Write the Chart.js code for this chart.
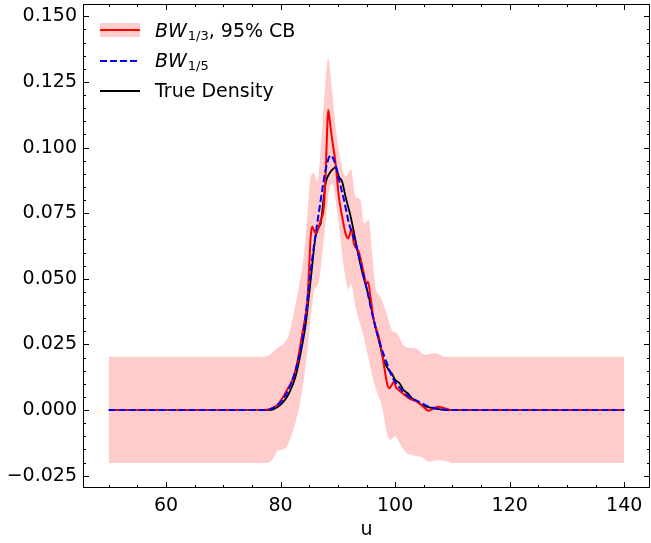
<!DOCTYPE html>
<html><head><meta charset="utf-8">
<script src="https://cdn.jsdelivr.net/npm/chart.js@4.4.1/dist/chart.umd.min.js"></script>
<style>html,body{margin:0;padding:0;background:#fff}canvas{display:block}</style>
</head><body>
<canvas id="c" width="651" height="543"></canvas>
<script>
// ---- tick labels ----
const xTicks = [60, 80, 100, 120, 140];
const yTicks = [-0.025, 0, 0.025, 0.05, 0.075, 0.1, 0.125, 0.15];

// ---- 95% confidence band (upper) ----
const upperU = [50, 77.0, 78.0, 79.7, 80.6, 81.5, 82.05, 83.2, 84.1, 84.6, 85.25, 85.83, 86.4, 87.0, 87.6, 88.31, 89.0, 89.6, 90.47, 91.34, 92.3, 93.08, 93.95, 94.53, 95.4, 95.97, 96.56, 97.43, 98.3, 99.45, 100.32, 101.78, 103.52, 105.26, 107.0, 108.74, 140];
const upperV = [0.0203, 0.0203, 0.021, 0.0241, 0.0254, 0.029, 0.0343, 0.047, 0.0597, 0.0724, 0.0889, 0.0902, 0.087, 0.099, 0.118, 0.134, 0.122, 0.108, 0.0953, 0.0889, 0.0917, 0.0813, 0.080, 0.0711, 0.0724, 0.0597, 0.047, 0.0432, 0.0381, 0.0305, 0.0292, 0.0241, 0.0235, 0.021, 0.0216, 0.0203, 0.0203];

// ---- 95% confidence band (lower) ----
const lowerU = [50, 77.5, 78.5, 79.5, 80.5, 81.2, 82.0, 82.7, 83.5, 84.2, 84.8, 85.4, 85.9, 86.3, 86.8, 87.3, 87.9, 88.5, 89.0, 89.6, 90.3, 91.0, 91.9, 92.3, 93.0, 94.5, 95.5, 96.5, 97.7, 98.6, 99.2, 100.0, 100.8, 101.8, 102.9, 104.7, 105.8, 107.6, 109.3, 110, 140];
const lowerV = [-0.0202, -0.0202, -0.019, -0.0155, -0.015, -0.0135, -0.009, -0.004, 0.004, 0.014, 0.025, 0.038, 0.046, 0.047, 0.050, 0.060, 0.072, 0.084, 0.086, 0.080, 0.068, 0.055, 0.046, 0.048, 0.040, 0.028, 0.018, 0.009, 0.0013, -0.009, -0.0114, -0.010, -0.0127, -0.016, -0.0171, -0.018, -0.0197, -0.019, -0.0197, -0.0202, -0.0202];

// ---- BW 1/3 estimate (red) ----
const redU = [50, 77.0, 78.0, 79.2, 80.3, 81.2, 82.05, 82.7, 83.2, 83.8, 84.2, 84.66, 85.0, 85.25, 85.53, 85.9, 86.2, 86.7, 87.0, 87.56, 87.9, 88.1, 88.31, 88.6, 89.0, 89.6, 90.17, 90.75, 91.34, 91.8, 92.4, 92.78, 93.66, 94.53, 95.0, 95.27, 95.69, 96.27, 97.14, 97.71, 98.2, 98.58, 99.0, 99.4, 99.75, 100.2, 100.62, 101.5, 102.36, 103.8, 104.8, 105.84, 106.6, 107.58, 108.4, 109.32, 110, 140];
const redV = [0, 0, 0.0003, 0.0015, 0.0045, 0.008, 0.0114, 0.016, 0.0216, 0.0292, 0.034, 0.041, 0.055, 0.066, 0.0699, 0.068, 0.0673, 0.070, 0.0724, 0.0775, 0.092, 0.105, 0.1143, 0.110, 0.103, 0.094, 0.0813, 0.0737, 0.0673, 0.0654, 0.0690, 0.0635, 0.0603, 0.052, 0.048, 0.0489, 0.0432, 0.0343, 0.0279, 0.0216, 0.015, 0.0102, 0.0083, 0.0095, 0.0108, 0.0085, 0.0076, 0.006, 0.0045, 0.0032, 0.0015, -0.0003, 0.0005, 0.0013, 0.0008, 0.0002, 0, 0];

// ---- BW 1/5 estimate (blue dashed) ----
const blueU = [50, 77.5, 78.5, 80.3, 82.05, 83.2, 84.06, 84.93, 85.8, 86.4, 87.27, 87.86, 88.73, 89.6, 90.2, 91.07, 91.94, 93.1, 94.24, 95.1, 95.97, 96.84, 97.71, 98.58, 99.45, 100.62, 102.36, 104.1, 105.84, 108.1, 110, 140];
const blueV = [0, 0, 0.0006, 0.0038, 0.0114, 0.0203, 0.0305, 0.047, 0.0622, 0.0711, 0.0838, 0.0915, 0.0970, 0.0934, 0.0877, 0.080, 0.0711, 0.0635, 0.0534, 0.0457, 0.0369, 0.0292, 0.0229, 0.0178, 0.0127, 0.0089, 0.0051, 0.0032, 0.0013, 0.0003, 0, 0];

// ---- true density (black) ----
const trueU = [50, 78.0, 78.8, 80.3, 81.47, 82.6, 83.5, 84.4, 85.25, 86.1, 86.7, 87.0, 87.56, 87.86, 88.73, 89.3, 89.6, 90.17, 90.75, 91.34, 92.2, 92.78, 93.4, 94.2, 95.4, 96.27, 97.14, 98.0, 98.9, 99.4, 100.04, 100.7, 101.49, 102.2, 102.93, 103.6, 104.67, 106.8, 109.3, 140];
const trueV = [0, 0, 0.0003, 0.0026, 0.0064, 0.0127, 0.0216, 0.033, 0.0495, 0.0660, 0.0699, 0.0711, 0.0813, 0.0864, 0.0908, 0.0921, 0.0925, 0.0889, 0.087, 0.0813, 0.0740, 0.0680, 0.061, 0.053, 0.0432, 0.0343, 0.0267, 0.019, 0.0152, 0.0140, 0.0114, 0.0104, 0.0076, 0.0064, 0.0045, 0.0036, 0.0019, 0.0006, 0, 0];

const pts = (xs, ys) => xs.map((x, i) => ({ x: x, y: ys[i] }));
const FONT = "'DejaVu Sans', sans-serif";
const fmt = v => (Math.abs(v) < 1e-12 ? 0 : v).toFixed(3).replace('-', '\u2212');

const axesPlugin = {
  id: 'axesPlugin',
  afterDraw(chart) {
    const ctx = chart.ctx, a = chart.chartArea;
    const xs = chart.scales.x, ys = chart.scales.y;
    ctx.save();
    ctx.strokeStyle = '#000';
    ctx.lineWidth = 1;
    ctx.strokeRect(a.left + 0.5, a.top + 0.5, a.right - a.left - 1, a.bottom - a.top - 1);
    ctx.beginPath();
    const MAJ = 6, MIN = 3;
    for (let v = 50; v <= 140.001; v += 5) {
      const len = xTicks.includes(Math.round(v)) ? MAJ : MIN;
      const px = Math.round(xs.getPixelForValue(v)) + 0.5;
      ctx.moveTo(px, a.bottom); ctx.lineTo(px, a.bottom - len);
      ctx.moveTo(px, a.top); ctx.lineTo(px, a.top + len);
    }
    for (let k = -5; k <= 30; k++) {
      const v = k * 0.005;
      const len = (k % 5 === 0) ? MAJ : MIN;
      const py = Math.round(ys.getPixelForValue(v)) + 0.5;
      ctx.moveTo(a.left, py); ctx.lineTo(a.left + len, py);
      ctx.moveTo(a.right, py); ctx.lineTo(a.right - len, py);
    }
    ctx.stroke();

    // legend
    const lx0 = 100, lx1 = 140, tx = 155;
    const rows = [30, 61, 91];
    ctx.fillStyle = 'rgba(255,0,0,0.2)';
    ctx.fillRect(lx0, rows[0] - 7, lx1 - lx0, 14);
    ctx.strokeStyle = '#ff0000'; ctx.lineWidth = 2;
    ctx.beginPath(); ctx.moveTo(lx0, rows[0]); ctx.lineTo(lx1, rows[0]); ctx.stroke();
    ctx.strokeStyle = '#0000ff'; ctx.setLineDash([7, 3]);
    ctx.beginPath(); ctx.moveTo(lx0, rows[1]); ctx.lineTo(lx1, rows[1]); ctx.stroke();
    ctx.setLineDash([]);
    ctx.strokeStyle = '#000'; ctx.lineWidth = 1.8;
    ctx.beginPath(); ctx.moveTo(lx0, rows[2]); ctx.lineTo(lx1, rows[2]); ctx.stroke();

    ctx.fillStyle = '#000';
    ctx.textBaseline = 'alphabetic';
    ctx.textAlign = 'left';
    const drawBW = (sub, rest, base) => {
      let x = tx;
      ctx.font = 'italic 19px ' + FONT;
      ctx.fillText('BW', x, base); x += ctx.measureText('BW').width + 1;
      ctx.font = '13px ' + FONT;
      ctx.fillText(sub, x, base + 3); x += ctx.measureText(sub).width;
      if (rest) { ctx.font = '19px ' + FONT; ctx.fillText(rest, x, base); }
    };
    drawBW('1/3', ', 95% CB', rows[0] + 6.5);
    drawBW('1/5', '', rows[1] + 5.5);
    ctx.font = '19px ' + FONT;
    ctx.fillText('True Density', tx, rows[2] + 6);
    ctx.restore();
  }
};

const common = { pointRadius: 0, pointHoverRadius: 0, fill: false, cubicInterpolationMode: 'monotone' };

new Chart(document.getElementById('c'), {
  type: 'line',
  data: {
    datasets: [
      Object.assign({}, common, { label: 'upper', data: pts(upperU, upperV), borderColor: 'rgba(0,0,0,0)', borderWidth: 0, backgroundColor: 'rgba(255,0,0,0.2)', fill: '+1', order: 3 }),
      Object.assign({}, common, { label: 'lower', data: pts(lowerU, lowerV), borderColor: 'rgba(0,0,0,0)', borderWidth: 0, order: 3 }),
      Object.assign({}, common, { label: 'True Density', data: pts(trueU, trueV), borderColor: '#000000', borderWidth: 1.8, order: 2 }),
      Object.assign({}, common, { label: 'BW1/3', data: pts(redU, redV), borderColor: '#ff0000', borderWidth: 2, order: 1 }),
      Object.assign({}, common, { label: 'BW1/5', data: pts(blueU, blueV), borderColor: '#0000ff', borderWidth: 2, borderDash: [7, 3], order: 0 })
    ]
  },
  options: {
    responsive: false,
    animation: false,
    devicePixelRatio: 1,
    layout: { padding: { left: 0, right: 1, top: 4, bottom: 0 } },
    plugins: { legend: { display: false }, tooltip: { enabled: false } },
    scales: {
      x: {
        type: 'linear', min: 45.5, max: 144.5,
        grid: { display: false, drawTicks: false },
        border: { display: false },
        afterBuildTicks: s => { s.ticks = xTicks.map(v => ({ value: v })); },
        afterFit: s => { s.height = 55; s.paddingLeft = 0; s.paddingRight = 0; },
        ticks: { color: '#000', font: { family: FONT, size: 19 }, padding: 7, maxRotation: 0, autoSkip: false, callback: v => String(v) },
        title: { display: true, text: 'u', color: '#000', font: { family: FONT, size: 19 }, padding: { top: 0, bottom: 2 } }
      },
      y: {
        type: 'linear', min: -0.0297, max: 0.1547,
        grid: { display: false, drawTicks: false },
        border: { display: false },
        afterBuildTicks: s => { s.ticks = yTicks.map(v => ({ value: v })); },
        afterFit: s => { s.width = 83; s.paddingTop = 0; s.paddingBottom = 0; },
        ticks: { color: '#000', font: { family: FONT, size: 19 }, padding: 6, autoSkip: false, callback: v => fmt(v) }
      }
    }
  },
  plugins: [axesPlugin]
});
</script>
</body></html>
